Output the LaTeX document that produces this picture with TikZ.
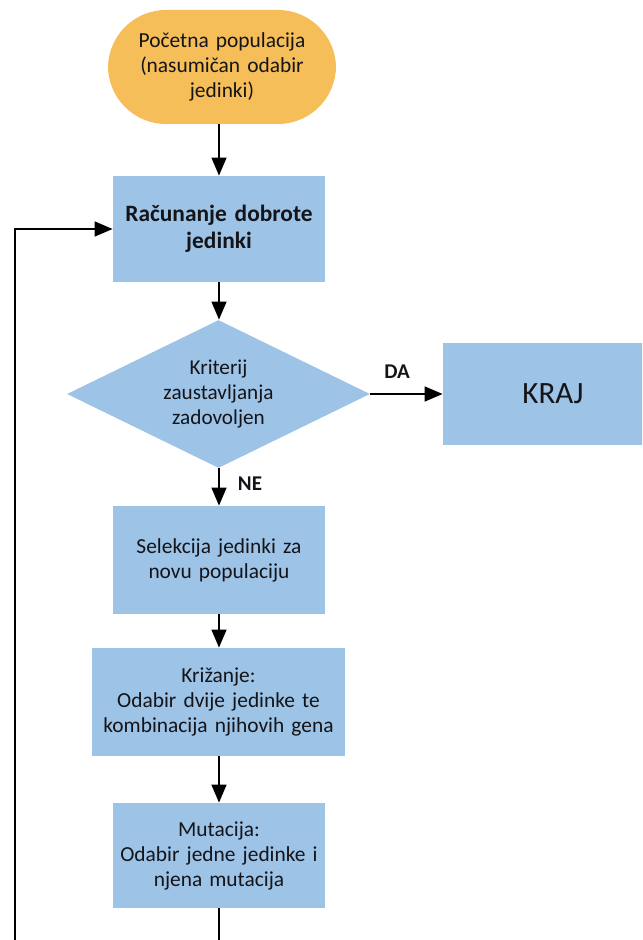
\documentclass[tikz,border=0pt]{standalone}
\usepackage{fontspec}
\setmainfont{Carlito}
\usepackage{xcolor}
\usetikzlibrary{shapes.geometric,arrows.meta}

\definecolor{boxblue}{RGB}{157,195,230}
\definecolor{startorange}{RGB}{245,190,88}
\definecolor{txt}{RGB}{20,20,25}

\begin{document}
\begin{tikzpicture}[x=0.5pt,y=-0.5pt,
  box/.style={fill=boxblue, inner sep=0pt, align=center, text=txt, minimum width=106pt, minimum height=53pt, text width=104pt, font=\fontsize{10.7}{12.5}\selectfont},
  startbox/.style={fill=startorange, rounded corners=29pt, inner sep=0pt, align=center, text=txt, minimum width=114pt, minimum height=57pt, text width=104pt, font=\fontsize{10.7}{12.5}\selectfont},
  decision/.style={diamond, aspect=2, fill=boxblue, inner sep=0pt, align=center, text=txt, minimum width=151.5pt, minimum height=74pt, font=\fontsize{10.6}{12.5}\selectfont},
  arr/.style={-{Triangle[length=9pt,width=7.5pt]}, line width=0.65pt},
  lbl/.style={font=\bfseries\fontsize{10.5}{12}\selectfont, text=txt}]
\clip (0,0) rectangle (642,940);
% nodes
\node[startbox] (start) at (222,67) {Početna populacija\\(nasumičan odabir\\jedinki)};
\node[box, font=\bfseries\fontsize{11.7}{13.5}\selectfont] (fit) at (219,229) {Računanje dobrote\\jedinki};
\node[decision] (crit) at (218.5,394) {Kriterij\\zaustavljanja\\zadovoljen};
\node[box, minimum width=110pt, minimum height=51pt, font=\fontsize{15.5}{18}\selectfont] (kraj) at (553,394) {KRAJ};
\node[box, minimum height=54pt] (sel) at (219,560) {Selekcija jedinki za\\novu populaciju};
\node[box, minimum width=126.5pt, text width=124pt, minimum height=54pt] (kriz) at (218.5,702) {Križanje:\\Odabir dvije jedinke te\\kombinacija njihovih gena};
\node[box, minimum height=52.5pt] (mut) at (219,855.5) {Mutacija:\\Odabir jedne jedinke i\\njena mutacija};
\node[lbl] (da) at (397,372) {DA};
\node[lbl] (ne) at (250,484) {NE};
\coordinate (bot) at (219,950);
\coordinate (loop) at (15,950);
% connectors
\draw[arr] (start.south -| fit) -- (fit);
\draw[arr] (fit) -- (fit |- crit.north);
\draw[arr] (crit) -- (kraj);
\draw[arr] (crit.south -| sel) -- (sel);
\draw[arr] (sel) -- (sel |- kriz.north);
\draw[arr] (kriz.south -| mut) -- (mut);
\draw[line width=0.65pt] (mut) -- (bot);
\draw[arr] (loop) |- (fit);
\end{tikzpicture}
\end{document}
